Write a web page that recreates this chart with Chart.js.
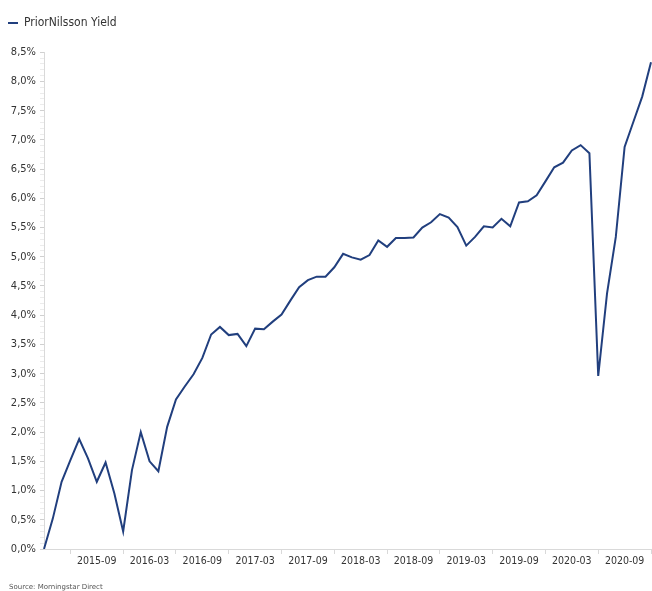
<!DOCTYPE html>
<html>
<head>
<meta charset="utf-8">
<script src="https://cdn.jsdelivr.net/npm/chart.js@4"></script>
<style>
    body { margin: 0; background: #fff; }
    #wrap { position: relative; width: 652px; height: 591px; overflow: hidden; }
    #fuente {
        position: absolute; left: 9px; top: 583px;
        font: 7px/9px "DejaVu Sans", sans-serif; color: #555;
    }
</style>
</head>
<body>
<div id="wrap">
    <canvas id="grafica" width="652" height="591"></canvas>
    <div id="fuente">Source: Morningstar Direct</div>
</div>
<script>
// ==============================
// DATOS
// ==============================
const serieNombre = "PriorNilsson Yield";

// meses 2015-03 ... 2020-12
const inicioAnio = 2015;
const inicioMes = 3;
const numMeses = 70;
const meses = [];
for (let i = 0; i < numMeses; i++) {
    const m = inicioMes - 1 + i;
    const anio = inicioAnio + Math.floor(m / 12);
    const mes = (m % 12) + 1;
    meses.push(anio + "-" + String(mes).padStart(2, "0"));
}

// rendimiento (%)
const rendimiento = [
    0.00, 0.52, 1.15, 1.52, 1.88, 1.55, 1.15, 1.48, 0.95, 0.30,
    1.35, 2.00, 1.50, 1.33, 2.09, 2.56, 2.78, 2.99, 3.27, 3.67,
    3.80, 3.66, 3.68, 3.47, 3.77, 3.76, 3.89, 4.01, 4.25, 4.48,
    4.60, 4.66, 4.66, 4.82, 5.05, 4.99, 4.95, 5.03, 5.28, 5.17,
    5.32, 5.32, 5.33, 5.50, 5.59, 5.73, 5.67, 5.51, 5.19, 5.34,
    5.52, 5.50, 5.65, 5.52, 5.93, 5.95, 6.05, 6.29, 6.53, 6.61,
    6.82, 6.91, 6.77, 2.96, 4.37, 5.34, 6.88, 7.31, 7.74, 8.33
];

const yMin = 0;
const yMax = 8.5;

// ==============================
// GRÁFICA
// ==============================
const fuenteTexto = "'DejaVu Sans Condensed', 'Liberation Sans', sans-serif";

new Chart(document.getElementById("grafica"), {
    type: "line",
    data: {
        labels: meses,
        datasets: [{
            label: serieNombre,
            data: rendimiento,
            borderColor: "#213f7e",
            backgroundColor: "#213f7e",
            borderWidth: 2,
            pointRadius: 0,
            tension: 0
        }]
    },
    options: {
        responsive: false,
        animation: false,
        layout: { padding: { left: 0, right: 0, top: 9, bottom: 0 } },
        plugins: {
            legend: {
                position: "top",
                align: "start",
                labels: {
                    usePointStyle: true,
                    pointStyle: "line",
                    pointStyleWidth: 10,
                    boxHeight: 10,
                    padding: 8,
                    color: "#333",
                    font: { family: fuenteTexto, size: 12 }
                }
            },
            // espacio entre leyenda y gráfica
            title: {
                display: true,
                text: " ",
                position: "top",
                weight: 500,
                font: { size: 1 },
                padding: { top: 12, bottom: 0 }
            },
            tooltip: { enabled: false }
        },
        scales: {
            x: {
                type: "category",
                offset: false,
                border: { color: "#d9d9d9" },
                grid: {
                    drawOnChartArea: false,
                    tickLength: 5,
                    color: ctx => (ctx.index % 6 === 3 ? "#d9d9d9" : "rgba(0,0,0,0)")
                },
                ticks: {
                    autoSkip: false,
                    maxRotation: 0,
                    padding: 1,
                    color: "#333",
                    font: { family: fuenteTexto, size: 10.5 },
                    callback: function (v, i) {
                        return (i > 0 && i % 6 === 0) ? meses[i] : "";
                    }
                },
                afterFit: function (scale) {
                    scale.height = 42;
                }
            },
            y: {
                min: yMin,
                max: yMax,
                border: { color: "#d9d9d9" },
                grid: {
                    drawOnChartArea: false,
                    tickLength: 4,
                    color: ctx => (Math.round(ctx.tick.value * 10) % 5 === 0 ? "#d0d0d0" : "#ececec")
                },
                ticks: {
                    stepSize: 0.1,
                    autoSkip: false,
                    padding: 4,
                    color: "#333",
                    font: { family: fuenteTexto, size: 11 },
                    callback: function (v) {
                        const d = Math.round(v * 10);
                        if (d % 5 !== 0) return "";
                        return (d / 10).toFixed(1).replace(".", ",") + "%";
                    }
                },
                afterFit: function (scale) {
                    scale.width = 44;
                }
            }
        }
    }
});
</script>
</body>
</html>
